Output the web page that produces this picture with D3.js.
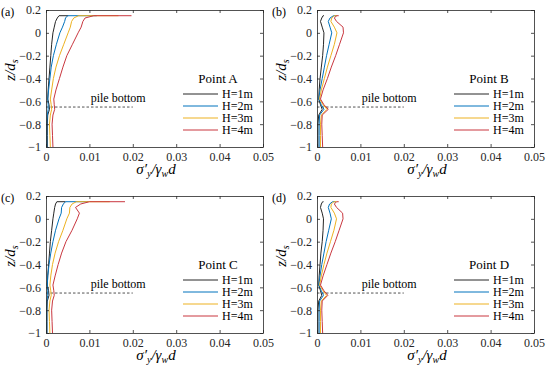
<!DOCTYPE html>
<html>
<head>
<meta charset="utf-8">
<script src="https://cdn.jsdelivr.net/npm/d3@7/dist/d3.min.js"></script>
<style>
  body { margin: 0; background: #fff; }
  svg text { font-family: "Liberation Serif", "Times New Roman", serif; }
</style>
</head>
<body>
<svg id="chart" width="550" height="365"></svg>
<script>
"use strict";

// depth levels (z/ds), shared by every curve
var zLevels = [0.15, 0.15, 0.13, 0.10, 0.05, 0, -0.1, -0.2, -0.3, -0.4, -0.5, -0.58, -0.63, -0.67, -0.72, -0.8, -0.9, -1];

var seriesNames = ["H=1m", "H=2m", "H=3m", "H=4m"];
var seriesColors = ["#262626", "#0072BD", "#EDB120", "#C9373F"];

// sigma'_y / gamma_w d at each depth, one array per wave height
var pointA = [
  [0.0051, 0.0030, 0.0026, 0.0022, 0.0019, 0.0016, 0.0013, 0.0011, 0.0009, 0.0007, 0.0005, 0.0004, 0.0007, 0.0008, 0.0004, 0.0003, 0.0003, 0.0003],
  [0.0117, 0.0050, 0.0045, 0.0043, 0.0038, 0.0032, 0.0024, 0.0017, 0.0012, 0.0009, 0.0006, 0.0004, 0.0005, 0.0005, 0.0003, 0.0002, 0.0002, 0.0002],
  [0.0167, 0.0075, 0.0064, 0.0059, 0.0056, 0.0051, 0.0041, 0.0031, 0.0023, 0.0017, 0.0013, 0.0010, 0.0012, 0.0013, 0.0010, 0.0008, 0.0009, 0.0010],
  [0.0197, 0.0110, 0.0090, 0.0085, 0.0081, 0.0074, 0.0061, 0.0048, 0.0039, 0.0031, 0.0023, 0.0018, 0.0019, 0.0020, 0.0016, 0.0014, 0.0015, 0.0016]
];
var pointB = [
  [0.0016, 0.0014, 0.0011, 0.0008, 0.0012, 0.0016, 0.0015, 0.0013, 0.0010, 0.0007, 0.0005, 0.0004, 0.0008, 0.0012, 0.0004, 0.0002, 0.0002, 0.0002],
  [0.0045, 0.0038, 0.0030, 0.0026, 0.0030, 0.0034, 0.0028, 0.0022, 0.0017, 0.0012, 0.0007, 0.0004, 0.0010, 0.0016, 0.0006, 0.0005, 0.0005, 0.0005],
  [0.0046, 0.0040, 0.0034, 0.0032, 0.0040, 0.0046, 0.0040, 0.0032, 0.0024, 0.0017, 0.0010, 0.0006, 0.0014, 0.0023, 0.0010, 0.0008, 0.0008, 0.0008],
  [0.0050, 0.0045, 0.0040, 0.0045, 0.0060, 0.0061, 0.0052, 0.0043, 0.0033, 0.0024, 0.0014, 0.0008, 0.0016, 0.0026, 0.0012, 0.0011, 0.0012, 0.0013]
];
var pointC = [
  [0.0045, 0.0025, 0.0022, 0.0020, 0.0018, 0.0016, 0.0013, 0.0010, 0.0008, 0.0006, 0.0004, 0.0003, 0.0006, 0.0007, 0.0003, 0.0002, 0.0002, 0.0002],
  [0.0097, 0.0045, 0.0040, 0.0036, 0.0035, 0.0030, 0.0022, 0.0016, 0.0011, 0.0007, 0.0004, 0.0003, 0.0004, 0.0004, 0.0002, 0.0002, 0.0002, 0.0002],
  [0.0147, 0.0070, 0.0060, 0.0055, 0.0054, 0.0048, 0.0039, 0.0029, 0.0021, 0.0015, 0.0011, 0.0009, 0.0011, 0.0012, 0.0009, 0.0007, 0.0008, 0.0009],
  [0.0182, 0.0100, 0.0080, 0.0068, 0.0077, 0.0072, 0.0060, 0.0046, 0.0036, 0.0028, 0.0021, 0.0016, 0.0018, 0.0019, 0.0015, 0.0013, 0.0014, 0.0015]
];
var pointD = [
  [0.0015, 0.0013, 0.0010, 0.0008, 0.0012, 0.0015, 0.0014, 0.0012, 0.0009, 0.0007, 0.0005, 0.0004, 0.0008, 0.0011, 0.0004, 0.0002, 0.0002, 0.0002],
  [0.0043, 0.0036, 0.0029, 0.0026, 0.0030, 0.0033, 0.0027, 0.0021, 0.0016, 0.0011, 0.0007, 0.0004, 0.0010, 0.0015, 0.0006, 0.0005, 0.0005, 0.0005],
  [0.0045, 0.0039, 0.0033, 0.0032, 0.0040, 0.0045, 0.0039, 0.0031, 0.0023, 0.0016, 0.0010, 0.0006, 0.0014, 0.0022, 0.0010, 0.0008, 0.0008, 0.0008],
  [0.0050, 0.0045, 0.0040, 0.0045, 0.0059, 0.0060, 0.0051, 0.0042, 0.0032, 0.0023, 0.0014, 0.0008, 0.0016, 0.0025, 0.0012, 0.0011, 0.0012, 0.0013]
];

var xTicks = [0, 0.01, 0.02, 0.03, 0.04, 0.05];
var yTicks = [0.2, 0, -0.2, -0.4, -0.6, -0.8, -1];
var pileBottom = { z: -0.65, x0: 0, x1: 0.02, label: "pile bottom" };

var panels = [
  { tag: "(a)", title: "Point A", values: pointA, left: 46, top: 10 },
  { tag: "(b)", title: "Point B", values: pointB, left: 317, top: 10 },
  { tag: "(c)", title: "Point C", values: pointC, left: 46, top: 196 },
  { tag: "(d)", title: "Point D", values: pointD, left: 317, top: 196 }
];

var plotW = 217, plotH = 137;
var serif = "Liberation Serif";
var svg = d3.select("#chart");
var fmt = d3.format("~g");

var x = d3.scaleLinear().domain([0, 0.05]).range([0, plotW]);
var y = d3.scaleLinear().domain([-1, 0.2]).range([plotH, 0]);

var line = d3.line()
  .x(function(d) { return x(d[0]); })
  .y(function(d) { return y(d[1]); });

function drawPanel(p) {
  var g = svg.append("g").attr("transform", "translate(" + p.left + "," + p.top + ")");

  // pile bottom marker
  g.append("line")
    .attr("x1", x(pileBottom.x0)).attr("x2", x(pileBottom.x1))
    .attr("y1", y(pileBottom.z)).attr("y2", y(pileBottom.z))
    .attr("stroke", "#262626").attr("stroke-width", 0.8)
    .attr("stroke-dasharray", "2.5,2");
  g.append("text")
    .attr("x", x(0.0103)).attr("y", y(pileBottom.z) - 5)
    .attr("font-family", serif).attr("font-size", 12)
    .text(pileBottom.label);

  // curves
  p.values.forEach(function(vals, i) {
    var pts = vals.map(function(v, k) { return [v, zLevels[k]]; });
    g.append("path")
      .datum(pts)
      .attr("d", line)
      .attr("fill", "none")
      .attr("stroke", seriesColors[i])
      .attr("stroke-width", 1)
      .attr("stroke-linejoin", "round");
  });

  // axes, ticks pointing inwards on all four sides
  var axes = [
    { ax: d3.axisBottom(x).tickValues(xTicks).tickFormat(fmt), t: "translate(0," + plotH + ")" },
    { ax: d3.axisTop(x).tickValues(xTicks).tickFormat(""), t: "translate(0,0)" },
    { ax: d3.axisLeft(y).tickValues(yTicks).tickFormat(fmt), t: "translate(0,0)" },
    { ax: d3.axisRight(y).tickValues(yTicks).tickFormat(""), t: "translate(" + plotW + ",0)" }
  ];
  axes.forEach(function(a) {
    var ag = g.append("g").attr("transform", a.t)
      .call(a.ax.tickSizeInner(-3).tickSizeOuter(0).tickPadding(5));
    ag.attr("font-family", serif).attr("font-size", 12);
    ag.select(".domain").attr("stroke", "#262626").attr("stroke-width", 0.8);
    ag.selectAll(".tick line").attr("stroke", "#262626").attr("stroke-width", 0.8);
    ag.selectAll(".tick text").attr("fill", "#262626").attr("font-family", serif);
  });

  // legend
  var lg = g.append("g").attr("transform", "translate(137,0)");
  lg.append("text")
    .attr("x", 35).attr("y", 73)
    .attr("text-anchor", "middle")
    .attr("font-family", serif).attr("font-size", 13)
    .text(p.title);
  seriesNames.forEach(function(name, i) {
    var ly = 84 + i * 12;
    lg.append("line")
      .attr("x1", 0).attr("x2", 35).attr("y1", ly).attr("y2", ly)
      .attr("stroke", seriesColors[i]).attr("stroke-width", 1);
    lg.append("text")
      .attr("x", 39).attr("y", ly + 4)
      .attr("font-family", serif).attr("font-size", 12)
      .text(name);
  });

  // panel tag
  svg.append("text")
    .attr("x", p.left - 45).attr("y", p.top + 6)
    .attr("font-family", serif).attr("font-size", 12)
    .text(p.tag);

  // y label  z/d_s
  var yl = svg.append("text")
    .attr("transform", "translate(" + (p.left - 31) + "," + (p.top + 60) + ") rotate(-90)")
    .attr("text-anchor", "middle")
    .attr("font-family", serif).attr("font-size", 15)
    .attr("font-style", "italic");
  yl.append("tspan").text("z/d");
  yl.append("tspan").attr("font-size", 10).attr("dy", 3).text("s");

  // x label  sigma'_y / gamma_w d
  var xl = svg.append("text")
    .attr("x", p.left + 110).attr("y", p.top + plotH + 27)
    .attr("text-anchor", "middle")
    .attr("font-family", serif).attr("font-size", 15)
    .attr("font-style", "italic");
  xl.append("tspan").text("σ′");
  xl.append("tspan").attr("font-size", 10).attr("dy", 2.5).text("y");
  xl.append("tspan").attr("dy", -2.5).text("/γ");
  xl.append("tspan").attr("font-size", 10).attr("dy", 2.5).text("w");
  xl.append("tspan").attr("dy", -2.5).text("d");
}

panels.forEach(drawPanel);
</script>
</body>
</html>
